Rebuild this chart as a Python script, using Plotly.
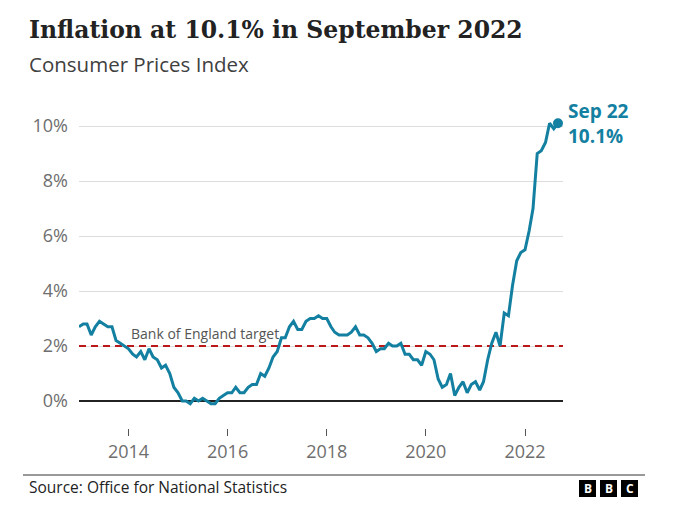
import plotly.graph_objects as go
import pandas as pd

# ---- data ----
start_month = "2013-01-01"
cpi = [
    2.7, 2.8, 2.8, 2.4, 2.7, 2.9, 2.8, 2.7, 2.7, 2.2, 2.1, 2.0,   # 2013
    1.9, 1.7, 1.6, 1.8, 1.5, 1.9, 1.6, 1.5, 1.2, 1.3, 1.0, 0.5,   # 2014
    0.3, 0.0, 0.0, -0.1, 0.1, 0.0, 0.1, 0.0, -0.1, -0.1, 0.1, 0.2,  # 2015
    0.3, 0.3, 0.5, 0.3, 0.3, 0.5, 0.6, 0.6, 1.0, 0.9, 1.2, 1.6,   # 2016
    1.8, 2.3, 2.3, 2.7, 2.9, 2.6, 2.6, 2.9, 3.0, 3.0, 3.1, 3.0,   # 2017
    3.0, 2.7, 2.5, 2.4, 2.4, 2.4, 2.5, 2.7, 2.4, 2.4, 2.3, 2.1,   # 2018
    1.8, 1.9, 1.9, 2.1, 2.0, 2.0, 2.1, 1.7, 1.7, 1.5, 1.5, 1.3,   # 2019
    1.8, 1.7, 1.5, 0.8, 0.5, 0.6, 1.0, 0.2, 0.5, 0.7, 0.3, 0.6,   # 2020
    0.7, 0.4, 0.7, 1.5, 2.1, 2.5, 2.0, 3.2, 3.1, 4.2, 5.1, 5.4,   # 2021
    5.5, 6.2, 7.0, 9.0, 9.1, 9.4, 10.1, 9.9, 10.1,                # 2022
]
months = pd.date_range(start_month, periods=len(cpi), freq="MS")
target = 2.0
target_label = "Bank of England target"
last_label = "Sep 22"
y_ticks = [0, 2, 4, 6, 8, 10]
y_tick_text = ["0%", "2%", "4%", "6%", "8%", "10%"]
x_ticks = ["2014-01-01", "2016-01-01", "2018-01-01", "2020-01-01", "2022-01-01"]
x_tick_text = ["2014", "2016", "2018", "2020", "2022"]
x_range = ["2013-01-01", "2022-10-08"]

title = "Inflation at 10.1% in September 2022"
subtitle = "Consumer Prices Index"
source = "Source: Office for National Statistics"

# ---- layout geometry (pixels) ----
W, H = 678, 525
L, R, T, B = 79, 563, 100, 428
PW, PH = R - L, B - T

def px(x):
    return (x - L) / PW

def py(y):
    return (B - y) / PH

TEAL = "#1380A1"
RED = "#BB1919"
GREY = "#6E6E6E"
SANS = "Open Sans, Noto Sans, sans-serif"
SERIF = "DejaVu Serif, serif"

fig = go.Figure()
# Bank of England target line across the whole axis range
fig.add_trace(go.Scatter(
    x=x_range, y=[target, target], mode="lines",
    line=dict(color=RED, width=2.2, dash="7px,5px"),
    hoverinfo="skip", showlegend=False, cliponaxis=False,
))
fig.add_trace(go.Scatter(
    x=months, y=cpi, mode="lines",
    line=dict(color=TEAL, width=3), hoverinfo="skip", showlegend=False,
))
fig.add_trace(go.Scatter(
    x=[months[-1]], y=[cpi[-1]], mode="markers",
    marker=dict(color=TEAL, size=10), hoverinfo="skip", showlegend=False,
))

shapes = [
    dict(type="line", xref="paper", yref="paper", x0=px(23), x1=px(645),
         y0=py(475), y1=py(475), line=dict(color="#999999", width=2)),
]
annotations = [
    dict(text=f"<b>{title}</b>", xref="paper", yref="paper", x=px(27), y=py(30),
         xanchor="left", yanchor="middle", showarrow=False,
         font=dict(family=SERIF, size=23.5, color="#222222")),
    dict(text=subtitle, xref="paper", yref="paper", x=px(27), y=py(64),
         xanchor="left", yanchor="middle", showarrow=False,
         font=dict(family=SANS, size=20.5, color="#404040")),
    dict(text=source, xref="paper", yref="paper", x=px(27), y=py(487),
         xanchor="left", yanchor="middle", showarrow=False,
         font=dict(family=SANS, size=15.5, color="#222222")),
    dict(text=target_label, xref="x", yref="y", x=months[12], y=target,
         xanchor="left", yanchor="bottom", yshift=1, showarrow=False,
         font=dict(family=SANS, size=14, color="#555555")),
    dict(text=f"<b>{last_label}<br>{cpi[-1]:.1f}%</b>", xref="x", yref="y",
         x=months[-1], y=cpi[-1], xanchor="left", yanchor="middle", xshift=8,
         align="left", showarrow=False,
         font=dict(family=SANS, size=19, color=TEAL)),
]
for i, letter in enumerate(["B", "B", "C"]):
    x0 = 579 + i * 21
    shapes.append(dict(type="rect", xref="paper", yref="paper",
                       x0=px(x0), x1=px(x0 + 17), y0=py(497), y1=py(480),
                       fillcolor="#000000", line=dict(width=0)))
    annotations.append(dict(text=f"<b>{letter}</b>", xref="paper", yref="paper",
                            x=px(x0 + 8.5), y=py(488.5), xanchor="center",
                            yanchor="middle", showarrow=False,
                            font=dict(family=SANS, size=12, color="#FFFFFF")))

fig.update_layout(
    width=W, height=H,
    margin=dict(l=L, r=W - R, t=T, b=H - B, pad=0),
    paper_bgcolor="white", plot_bgcolor="white",
    shapes=shapes, annotations=annotations, showlegend=False,
    xaxis=dict(
        type="date", range=x_range,
        tickvals=x_ticks, ticktext=x_tick_text,
        ticks="outside", ticklen=7, tickcolor="#555555", tickwidth=1,
        showgrid=False, showline=False, zeroline=False,
        tickfont=dict(family=SANS, size=18, color=GREY),
        fixedrange=True,
    ),
    yaxis=dict(
        range=[(401 - B) / 27.5, (401 - T) / 27.5],
        tickvals=y_ticks, ticktext=y_tick_text,
        showgrid=True, gridcolor="#DDDDDD", gridwidth=1,
        zeroline=True, zerolinecolor="#222222", zerolinewidth=2,
        showline=False, ticks="", ticklabelstandoff=10,
        tickfont=dict(family=SANS, size=18, color=GREY),
        fixedrange=True,
    ),
)

fig.write_html("out.html", config={"displayModeBar": False},
               post_script="document.body.style.margin='0';")
